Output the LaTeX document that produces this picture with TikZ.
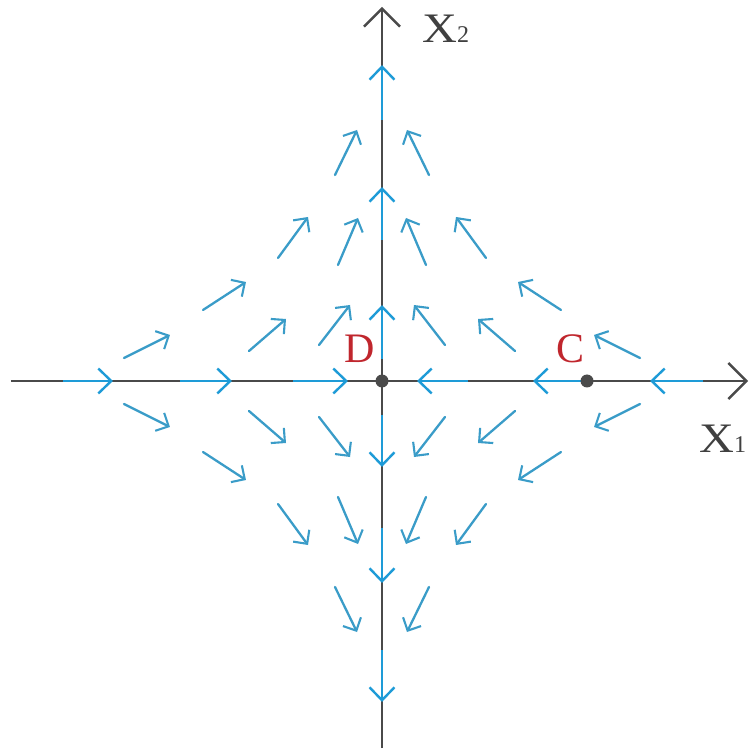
\documentclass[tikz,border=0pt]{standalone}
\usepackage{fontspec}
\setmainfont{Liberation Serif}
\usetikzlibrary{arrows.meta}
\definecolor{axisgray}{HTML}{4A4A4A}
\definecolor{flowblue}{HTML}{1E9BD7}
\definecolor{fieldblue}{HTML}{3A9CC8}
\definecolor{labelred}{HTML}{C0262D}
\tikzset{
  axisline/.style={draw=axisgray, line width=2.8pt, -{Straight Barb[length=18pt,width=36pt,line width=2.4pt]}},
  flowseg/.style={draw=flowblue, line width=2.8pt, -{Straight Barb[length=13pt,width=25pt,line width=2.4pt]}},
  fieldarrow/.style={draw=fieldblue, line width=2.3pt, line cap=round, -{Straight Barb[length=10pt,width=20pt,line width=2.1pt]}},
  ptlabel/.style={text=labelred, font=\fontsize{42}{42}\selectfont, inner sep=0pt, anchor=base west},
  axislabel/.style={text=black!75, font=\fontsize{42}{42}\selectfont, inner sep=0pt, anchor=base west},
  eqpoint/.style={circle, fill=axisgray, minimum size=13pt, inner sep=0pt}
}
\begin{document}
\begin{tikzpicture}[x=1pt,y=1pt]
\useasboundingbox (-382,-373) rectangle (369,381);
% axes
\coordinate (xs) at (-371,0);
\coordinate (xe) at (366,0);
\coordinate (ys) at (0,-367);
\coordinate (ye) at (0,374);
\draw[axisline] (xs) -- (xe);
\draw[axisline] (ys) -- (ye);
% flow on the x axis
\foreach \a/\b in {-319/-269,-202/-150,-89/-34,86/35,205/151,321/268}
  \draw[flowseg] (\a,0) -- (\b,0);
% flow on the y axis
\foreach \a/\b in {261/316,141/194,22/76,-34/-86,-147/-202,-269/-321}
  \draw[flowseg] (0,\a) -- (0,\b);
% field arrows in the four quadrants
\foreach \xa/\ya/\xb/\yb in {258/23/212/46, 133/30/96/62, 63/36/32/76, 179/71/136/99,
                             104/123/74/164, 44/116/24/163, 47/206/25/251}{
  \draw[fieldarrow] (-\xa,\ya) -- (-\xb,\yb);
  \draw[fieldarrow] (\xa,\ya) -- (\xb,\yb);
  \draw[fieldarrow] (-\xa,-\ya) -- (-\xb,-\yb);
  \draw[fieldarrow] (\xa,-\ya) -- (\xb,-\yb);
}
% equilibrium points
\node[eqpoint] (D) at (0,0) {};
\node[eqpoint] (C) at (205,0) {};
\node[ptlabel] (Dl) at (-38,18) {D};
\node[ptlabel] (Cl) at (174,18) {C};
\node[axislabel] (X2) at (40,338) {\scalebox{1.15}[1]{X}{\fontsize{24}{24}\selectfont 2}};
\node[axislabel] (X1) at (317,-71) {\scalebox{1.15}[1]{X}{\fontsize{24}{24}\selectfont 1}};
\end{tikzpicture}
\end{document}
